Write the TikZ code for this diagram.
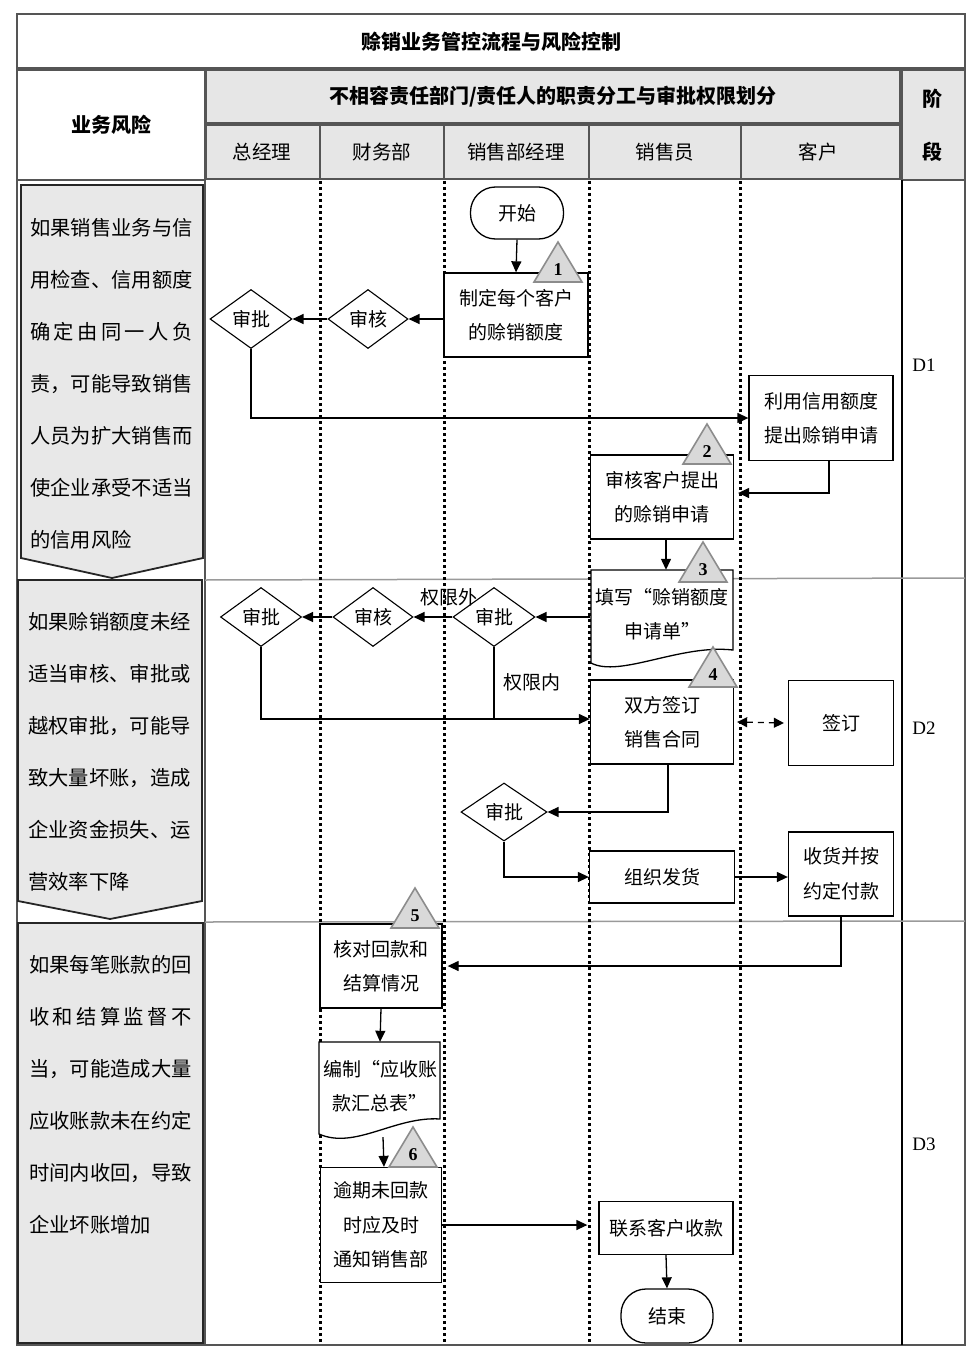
\documentclass[tikz,border=0pt]{standalone}
\usepackage{fontspec}
\setmainfont{Liberation Serif}
\newfontfamily\cjk{Noto Sans CJK SC}
\usetikzlibrary{arrows.meta,shapes.geometric,calc}
\definecolor{hdfill}{HTML}{E6E6E6}
\definecolor{hdline}{HTML}{555555}
\definecolor{riskfill}{HTML}{E8E8E8}
\definecolor{trifill}{HTML}{D9D9D9}
\definecolor{tridraw}{HTML}{8C8C8C}
\definecolor{sepgray}{HTML}{9A9A9A}
\newcommand\fl{\cjk\fontsize{19}{34.5}\selectfont}
\newcommand\rk{\cjk\fontsize{20.3}{24}\selectfont}
\newcommand\hb{\cjk\bfseries\fontsize{20}{24}\selectfont}
\newcommand\hs{\cjk\fontsize{19.5}{24}\selectfont}
\newcommand\spr[1]{\makebox[162.4pt][s]{#1}}
\newcommand\mytri[3]{%
  \draw[tri] (#1,#2) -- ++(24,40) -- ++(-48,0) -- cycle;
  \node[num] (t#3) at (#1,#2+28) {#3};}
\begin{document}
\begin{tikzpicture}[x=1pt,y=-1pt,
  box/.style={draw, line width=1.3pt, fill=white, inner sep=0pt, align=center, font=\fl},
  dia/.style={draw, diamond, aspect=1.4, line width=1.1pt, fill=white, inner sep=0pt, font=\fl},
  term/.style={draw, rectangle, rounded corners=25pt, line width=1.3pt, fill=white, inner sep=0pt, font=\fl},
  arr/.style={line width=1.3pt, -{Triangle[length=11pt,width=10pt]}},
  darr/.style={line width=1.3pt, dash pattern=on 6pt off 5pt, {Triangle[length=10pt,width=10pt]}-{Triangle[length=10pt,width=10pt]}},
  lane/.style={line width=3pt, dash pattern=on 3pt off 3pt},
  tri/.style={fill=trifill, draw=tridraw, line width=1.6pt, line join=miter},
  num/.style={font=\bfseries\fontsize{18}{18}\selectfont, inner sep=0pt},
  hd/.style={draw=hdline, line width=1.6pt, fill=hdfill},
  cell/.style={draw=hdline, line width=1.6pt, fill=white},
  lbl/.style={font=\fl, inner sep=0pt, align=center},
  risk/.style={anchor=west, font=\rk, inner sep=0pt},
  riskbox/.style={draw=black!85, line width=1.8pt, fill=riskfill},
  doc/.style={draw, line width=1.3pt, fill=white},
  phase/.style={font=\fontsize{19}{22}\selectfont, inner sep=0pt},
  sep/.style={draw=sepgray, line width=1.5pt}]
\useasboundingbox (0,0) rectangle (979,1367);
% ---------- header ----------
\draw[cell] (17,14) rectangle (965,68);
\node[font=\hb, inner sep=0pt] (title) at (491,42) {赊销业务管控流程与风险控制};
\draw[cell] (17,70) rectangle (205,180);
\node[font=\hb, inner sep=0pt] (hrisk) at (111,125) {业务风险};
\draw[hd] (206,70) rectangle (900,123);
\node[font=\hb, inner sep=0pt] (hmain) at (553,97) {不相容责任部门/责任人的职责分工与审批权限划分};
\draw[hd] (206,125) rectangle (320,179);
\draw[hd] (320,125) rectangle (444,179);
\draw[hd] (444,125) rectangle (589,179);
\draw[hd] (589,125) rectangle (741,179);
\draw[hd] (741,125) rectangle (900,179);
\node[font=\hs, inner sep=0pt] (c1) at (262,152) {总经理};
\node[font=\hs, inner sep=0pt] (c2) at (382,152) {财务部};
\node[font=\hs, inner sep=0pt] (c3) at (516,152) {销售部经理};
\node[font=\hs, inner sep=0pt] (c4) at (665,152) {销售员};
\node[font=\hs, inner sep=0pt] (c5) at (818,152) {客户};
\draw[hd] (902,70) rectangle (965,180);
\node[font=\hb, inner sep=0pt] (hj) at (932,99) {阶};
\node[font=\hb, inner sep=0pt] (hd2) at (932,152) {段};
% ---------- body frame ----------
\draw[sep, draw=hdline] (17,180) -- (17,1345) -- (965,1345) -- (965,180);
\draw[sep, draw=hdline] (205,180) -- (205,1345);
\draw[line width=1.2pt] (902,180) -- (902,1345);
\draw[sep] (205,580) -- (965,578);
\draw[sep] (205,922) -- (965,921);
% lanes
\foreach \x in {320,444,589,740} \draw[lane] (\x,181) -- (\x,1344);
% phases
\node[phase] (d1) at (924,365) {D1};
\node[phase] (d2) at (924,728) {D2};
\node[phase] (d3) at (924,1144) {D3};
% ---------- risk column ----------
\draw[riskbox] (21,185) -- (203,185) -- (203,558) -- (112,578) -- (21,558) -- cycle;
\draw[riskbox] (18,580) -- (202,580) -- (202,901) -- (110,919) -- (18,901) -- cycle;
\draw[riskbox] (18,923) rectangle (203,1343);
\foreach \t [count=\i from 0] in {如果销售业务与信, 用检查、信用额度, {\spr{确\hfil 定\hfil 由\hfil 同\hfil 一\hfil 人\hfil 负}}, 责，可能导致销售, 人员为扩大销售而, 使企业承受不适当, 的信用风险}
  \node[risk] (ra\i) at (30,228+52*\i) {\t};
\foreach \t [count=\i from 0] in {如果赊销额度未经, 适当审核、审批或, 越权审批，可能导, 致大量坏账，造成, 企业资金损失、运, 营效率下降}
  \node[risk] (rb\i) at (28,622+52*\i) {\t};
\foreach \t [count=\i from 0] in {如果每笔账款的回, {\spr{收\hfil 和\hfil 结\hfil 算\hfil 监\hfil 督\hfil 不}}, 当，可能造成大量, 应收账款未在约定, 时间内收回，导致, 企业坏账增加}
  \node[risk] (rc\i) at (29,965+52*\i) {\t};
% ---------- flow: D1 ----------
\node[term, minimum width=93pt, minimum height=52pt] (start) at (517,213) {开始};
\node[box, minimum width=144pt, minimum height=84pt] (n1) at (516,315) {制定每个客户\\的赊销额度};
\node[dia, minimum width=80pt, minimum height=59pt] (sh1) at (368,319) {审核};
\node[dia, minimum width=82pt, minimum height=59pt] (pi1) at (251,319) {审批};
\node[box, minimum width=144pt, minimum height=85pt] (n2) at (821,418) {利用信用额度\\提出赊销申请};
\node[box, minimum width=143pt, minimum height=84pt] (n3) at (662,497) {审核客户提出\\的赊销申请};
\draw[arr] (start.south) -- (n1.north);
\draw[arr] (n1.west |- sh1.east) -- (sh1.east);
\draw[arr] (sh1.west) -- (pi1.east);
\draw[arr] (pi1.south) |- (n2.west);
\draw[arr] ([xshift=8pt]n2.south) |- ([xshift=4pt,yshift=4pt]n3.east);
% ---------- flow: D2 ----------
\draw[doc] (591,570) -- (733,570) -- (733,650) .. controls (680,644) and (620,678) .. (591,663) -- cycle;
\node[lbl, minimum width=143pt, minimum height=88pt] (n4) at (662,614) {填写“赊销额度\\申请单”};
\draw[arr] ([xshift=4pt]n3.south) -- ([xshift=4pt]n4.north);
\node[dia, minimum width=82pt, minimum height=59pt] (pi2) at (494,617) {审批};
\node[dia, minimum width=80pt, minimum height=59pt] (sh2) at (373,617) {审核};
\node[dia, minimum width=81pt, minimum height=59pt] (pi3) at (261,617) {审批};
\node[lbl] (out) at (449,597) {权限外};
\node[lbl] (in) at (532,682) {权限内};
\node[box, minimum width=143pt, minimum height=84pt] (n5) at (662,722) {双方签订\\销售合同};
\node[box, minimum width=105pt, minimum height=85pt] (qd) at (841,723) {签订};
\coordinate (m5) at ($(n5.west)+(0,-3)$);
\draw[arr] (n4.west |- pi2.east) -- (pi2.east);
\draw[arr] (pi2.west) -- (sh2.east);
\draw[arr] (sh2.west) -- (pi3.east);
\draw[arr] (pi3.south) |- (m5);
\draw[line width=1.3pt] (pi2.south) -- (pi2.south |- m5);
\draw[darr] ([xshift=3pt]n5.east) -- ([xshift=-4pt]qd.west);
\node[dia, minimum width=86pt, minimum height=58pt] (pi4) at (504,812) {审批};
\node[box, minimum width=145pt, minimum height=52pt] (n6) at (662,877) {组织发货};
\node[box, minimum width=105pt, minimum height=84pt] (shou) at (841,874) {收货并按\\约定付款};
\draw[arr] ([xshift=6pt]n5.south) |- (pi4.east);
\draw[arr] (pi4.south) |- (n6.west);
\draw[arr] (n6.east) -- (n6.east -| shou.west);
% ---------- flow: D3 ----------
\node[box, minimum width=122pt, minimum height=84pt] (n7) at (381,966) {核对回款和\\结算情况};
\draw[arr] (shou.south) |- ([xshift=5pt]n7.east);
\draw[doc] (319,1042) -- (440,1042) -- (440,1119) .. controls (395,1116) and (355,1150) .. (319,1134) -- cycle;
\node[lbl, minimum width=121pt, minimum height=88pt] (n8) at (380,1086) {编制“应收账\\款汇总表”};
\draw[arr] (n7.south) -- (n8.north);
\node[box, minimum width=121pt, minimum height=115pt] (n9) at (381,1225) {逾期未回款\\时应及时\\通知销售部};
\draw[arr] ([xshift=3pt,yshift=-7pt]n8.south) -- ([xshift=3pt]n9.north);
\node[box, minimum width=134pt, minimum height=53pt] (n10) at (666,1228) {联系客户收款};
\draw[arr] (n9.east) -- ($(n9.east -| n10.west)+(-11,0)$);
\node[term, minimum width=92pt, minimum height=54pt] (end) at (667,1316) {结束};
\draw[arr] (n10.south) -- (end.north);
% ---------- triangles ----------
\mytri{558}{242}{1}
\mytri{707}{424}{2}
\mytri{703}{542}{3}
\mytri{713}{647}{4}
\mytri{415}{888}{5}
\mytri{413}{1127}{6}
\end{tikzpicture}
\end{document}
